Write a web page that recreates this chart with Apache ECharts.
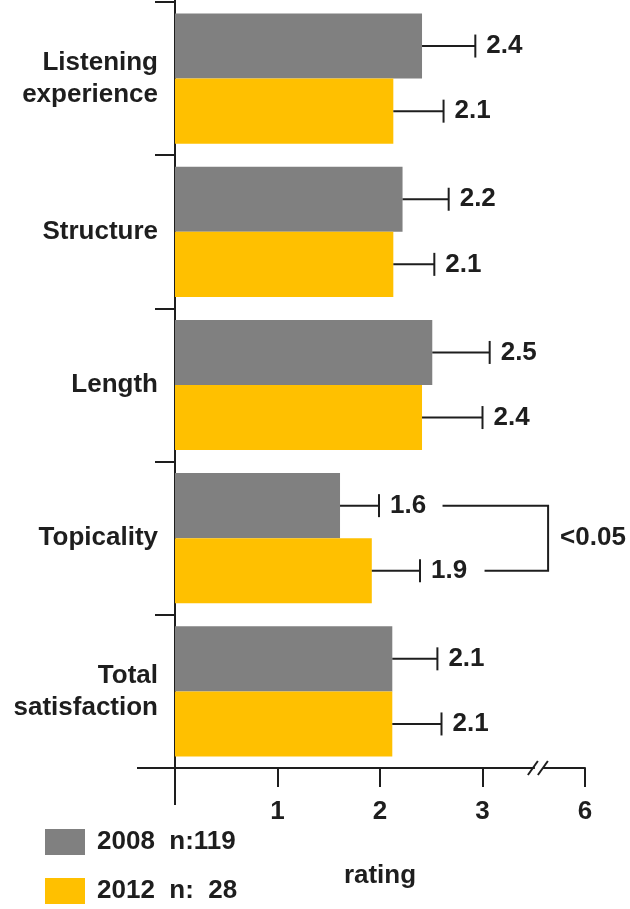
<!DOCTYPE html>
<html>
<head>
<meta charset="utf-8">
<script src="https://cdn.jsdelivr.net/npm/echarts@6/dist/echarts.min.js"></script>
<style>
  html, body { margin: 0; padding: 0; background: #ffffff; }
  #chart { width: 630px; height: 909px; }
</style>
</head>
<body>
<div id="chart"></div>
<script>
// ---------- data ----------
const categories = ['Listening\nexperience', 'Structure', 'Length', 'Topicality', 'Total\nsatisfaction'];
const seriesNames = ['2008', '2012'];
const legendLabels = ['2008  n:119', '2012  n:  28'];
const mean2008 = [2.41, 2.22, 2.51, 1.61, 2.12];
const mean2012 = [2.13, 2.13, 2.41, 1.92, 2.12];
const errEnd2008 = [2.93, 2.67, 3.07, 1.99, 2.56];
const errEnd2012 = [2.62, 2.53, 3.00, 2.39, 2.60];
const valueLabels2008 = ['2.4', '2.2', '2.5', '1.6', '2.1'];
const valueLabels2012 = ['2.1', '2.1', '2.4', '1.9', '2.1'];
const xTickLabels = ['', '1', '2', '3', '6'];   // axis broken between 3 and 6
const sigCategory = 3;                           // Topicality
const sigText = '<0.05';
const axisName = 'rating';

// ---------- style ----------
const FONT = 'Liberation Sans';
const FS = 26;
const INK = '#1e1e1e';
const GRAY = '#808080';
const YELLOW = '#FFC000';
const CAT_GAP = 0.15;
const GRID = { left: 175, right: 45, top: 2, bottom: 141 };

const chart = echarts.init(document.getElementById('chart'), null, { renderer: 'canvas' });

function errRender(sign) {
  return function (params, api) {
    const cat = api.value(0);
    const c = api.coord([api.value(1), cat]);
    const e = api.coord([api.value(2), cat]);
    const band = api.size([0, 1])[1];
    const bw = band * (1 - CAT_GAP) / 2;
    const y = c[1] + sign * bw / 2;
    const label = (sign < 0 ? valueLabels2008 : valueLabels2012)[params.dataIndex];
    return {
      type: 'group',
      children: [
        { type: 'line', shape: { x1: c[0], y1: y, x2: e[0], y2: y }, style: { stroke: INK, lineWidth: 2 } },
        { type: 'line', shape: { x1: e[0], y1: y - 11.5, x2: e[0], y2: y + 11.5 }, style: { stroke: INK, lineWidth: 2 } },
        { type: 'text', x: e[0] + 11, y: y,
          style: { text: label, fill: INK, font: 'bold ' + FS + 'px "' + FONT + '"', textAlign: 'left', textVerticalAlign: 'middle' } }
      ]
    };
  };
}

function sigRender(params, api) {
  const cat = api.value(0);
  const band = api.size([0, 1])[1];
  const bw = band * (1 - CAT_GAP) / 2;
  const mid = api.coord([0, cat])[1];
  const yTop = mid - bw / 2, yBot = mid + bw / 2;
  const xR = api.coord([3.64, cat])[0];
  const xTopL = api.coord([2.61, cat])[0];
  const xBotL = api.coord([3.02, cat])[0];
  return {
    type: 'group',
    children: [
      { type: 'polyline', shape: { points: [[xTopL, yTop], [xR, yTop], [xR, yBot], [xBotL, yBot]] },
        style: { stroke: INK, lineWidth: 2, fill: null } },
      { type: 'text', x: xR + 12, y: mid,
        style: { text: sigText, fill: INK, font: 'bold ' + FS + 'px "' + FONT + '"', textAlign: 'left', textVerticalAlign: 'middle' } }
    ]
  };
}

const option = {
  animation: false,
  backgroundColor: '#ffffff',
  textStyle: { fontFamily: FONT },
  grid: GRID,
  legend: {
    data: seriesNames,
    orient: 'vertical',
    left: 45,
    top: 829,
    padding: 0,
    itemWidth: 40,
    itemHeight: 26,
    itemGap: 23,
    icon: 'rect',
    formatter: function (n) { return legendLabels[seriesNames.indexOf(n)]; },
    textStyle: { fontFamily: FONT, fontWeight: 'bold', fontSize: FS, color: INK, padding: [0, 0, 0, 7] }
  },
  xAxis: {
    type: 'value',
    min: 0, max: 4, interval: 1,
    name: axisName,
    nameLocation: 'middle',
    nameGap: 95,
    nameTextStyle: { fontFamily: FONT, fontWeight: 'bold', fontSize: FS, color: INK },
    splitLine: { show: false },
    axisLine: { show: true, lineStyle: { color: INK, width: 2 } },
    axisTick: { show: true, length: 19, lineStyle: { color: INK, width: 2 } },
    axisLabel: {
      margin: 31,
      fontFamily: FONT, fontWeight: 'bold', fontSize: FS, color: INK,
      formatter: function (v) { return xTickLabels[Math.round(v)]; }
    }
  },
  yAxis: {
    type: 'category',
    data: categories,
    inverse: true,
    axisLine: { show: true, lineStyle: { color: INK, width: 2 } },
    axisTick: { show: true, length: 20, lineStyle: { color: INK, width: 2 } },
    axisLabel: {
      margin: 17,
      fontFamily: FONT, fontWeight: 'bold', fontSize: FS, lineHeight: 32, color: INK, align: 'right'
    }
  },
  series: [
    { name: '2008', type: 'bar', data: mean2008, barGap: '0%', barCategoryGap: (CAT_GAP * 100) + '%',
      itemStyle: { color: GRAY }, z: 2 },
    { name: '2012', type: 'bar', data: mean2012, barGap: '0%', barCategoryGap: (CAT_GAP * 100) + '%',
      itemStyle: { color: YELLOW }, z: 2 },
    { name: 'err2008', type: 'custom', renderItem: errRender(-1), z: 3,
      encode: { x: [1, 2], y: 0 },
      data: mean2008.map((m, i) => [i, m, errEnd2008[i]]) },
    { name: 'err2012', type: 'custom', renderItem: errRender(1), z: 3,
      encode: { x: [1, 2], y: 0 },
      data: mean2012.map((m, i) => [i, m, errEnd2012[i]]) },
    { name: 'sig', type: 'custom', renderItem: sigRender, z: 3,
      encode: { y: 0 }, data: [[sigCategory]] }
  ]
};
chart.setOption(option);

// axis decorations: x-axis extension to the left, y-axis extension below, break mark
const H = 909;
const yAxisBottom = H - GRID.bottom;
const x0 = chart.convertToPixel({ xAxisIndex: 0 }, 0);
const xBreak = chart.convertToPixel({ xAxisIndex: 0 }, 3.55);
chart.setOption({
  graphic: [
    { type: 'line', shape: { x1: 137, y1: yAxisBottom, x2: x0, y2: yAxisBottom }, style: { stroke: INK, lineWidth: 2 }, z: 10 },
    { type: 'line', shape: { x1: x0, y1: yAxisBottom, x2: x0, y2: yAxisBottom + 37 }, style: { stroke: INK, lineWidth: 2 }, z: 10 },
    { type: 'line', shape: { x1: x0, y1: 0, x2: x0, y2: GRID.top }, style: { stroke: INK, lineWidth: 2 }, z: 10 },
    { type: 'rect', shape: { x: xBreak - 4, y: yAxisBottom - 3, width: 8, height: 6 }, style: { fill: '#ffffff' }, z: 11 },
    { type: 'line', shape: { x1: xBreak - 11, y1: yAxisBottom + 7, x2: xBreak - 1, y2: yAxisBottom - 7 }, style: { stroke: INK, lineWidth: 2 }, z: 12 },
    { type: 'line', shape: { x1: xBreak - 1, y1: yAxisBottom + 7, x2: xBreak + 9, y2: yAxisBottom - 7 }, style: { stroke: INK, lineWidth: 2 }, z: 12 }
  ]
});
</script>
</body>
</html>
